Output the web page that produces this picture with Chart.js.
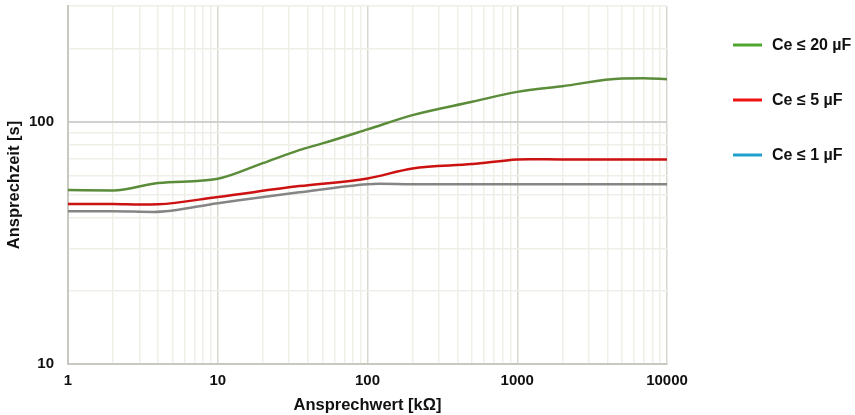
<!DOCTYPE html>
<html><head><meta charset="utf-8">
<script src="https://cdn.jsdelivr.net/npm/chart.js@4/dist/chart.umd.min.js"></script>
<style>html,body{margin:0;padding:0;background:#fff}#wrap{width:855px;height:415px}</style>
</head><body><div id="wrap"><canvas id="c" width="855" height="415"></canvas></div>
<script>
const seriesNames = ['Ce ≤ 20 µF', 'Ce ≤ 5 µF', 'Ce ≤ 1 µF'];
const legendColors = ['#4ea72e', '#ee1111', '#1fa0cc'];
const lineColors = ['#5b8c3a', '#cc1111', '#858585'];

const xGreen = [1, 2, 4, 10, 20, 35, 50, 100, 200, 500, 1000, 2000, 5000, 7000, 10000];
const yGreen = [52.2, 52, 55.8, 58.1, 67.4, 76.3, 81.3, 92.9, 106.4, 120.7, 132.7, 140, 150.7, 151, 149.7];
const xRed = [1, 2, 3, 4, 10, 35, 100, 200, 500, 1000, 1200, 2000, 10000];
const yRed = [45.7, 45.7, 45.5, 45.6, 48.9, 54.2, 58.3, 64.1, 66.8, 69.8, 70, 69.8, 69.8];
const xGray = [1, 2, 3.7, 10, 35, 100, 120, 200, 1000, 10000];
const yGray = [42.7, 42.7, 42.4, 46.1, 51.1, 55.2, 55.4, 55.2, 55.2, 55.2];

const xTickLabels = [1, 10, 100, 1000, 10000];
const yTickLabels = [10, 100];

function pts(xs, ys){ return xs.map((x,i)=>({x:x, y:ys[i]})); }
function logTicks(min, max){
  const out=[];
  for(let e=Math.floor(Math.log10(min)); Math.pow(10,e)<=max; e++){
    for(let s=1;s<=9;s++){ const v=s*Math.pow(10,e); if(v>=min-1e-9 && v<=max+1e-9) out.push({value:v}); }
  }
  return out;
}
const isDecade = v => Math.abs(Math.log10(v) - Math.round(Math.log10(v))) < 1e-9;

const FONT = 'Liberation Sans, Arial, sans-serif';

const legendPlugin = {
  id:'customLegend',
  afterDraw(chart){
    const ctx = chart.ctx;
    ctx.save();
    const ys=[45,100,155];
    seriesNames.forEach((n,i)=>{
      ctx.strokeStyle = legendColors[i];
      ctx.lineWidth = 3;
      ctx.beginPath(); ctx.moveTo(733, ys[i]); ctx.lineTo(762, ys[i]); ctx.stroke();
      ctx.fillStyle = '#111';
      ctx.font = 'bold 16px ' + FONT;
      ctx.textBaseline = 'middle';
      ctx.textAlign = 'left';
      ctx.fillText(n, 772, ys[i]+1);
    });
    ctx.restore();
  }
};

new Chart(document.getElementById('c'), {
  type:'line',
  data:{ datasets:[
    {label:seriesNames[0], data:pts(xGreen,yGreen), borderColor:lineColors[0], borderWidth:2.5, pointRadius:0, cubicInterpolationMode:'monotone', fill:false},
    {label:seriesNames[1], data:pts(xRed,yRed), borderColor:lineColors[1], borderWidth:2.5, pointRadius:0, cubicInterpolationMode:'monotone', fill:false},
    {label:seriesNames[2], data:pts(xGray,yGray), borderColor:lineColors[2], borderWidth:2.5, pointRadius:0, cubicInterpolationMode:'monotone', fill:false}
  ]},
  options:{
    responsive:false, animation:false,
    layout:{padding:{top:6, right:188, left:0, bottom:0}},
    plugins:{legend:{display:false}, tooltip:{enabled:false}},
    scales:{
      x:{type:'logarithmic', min:1, max:10000,
        afterBuildTicks(s){ s.ticks = logTicks(1,10000); },
        afterFit(s){ s.height = 51; s.paddingLeft = 0; s.paddingRight = 0; },
        ticks:{autoSkip:false, maxRotation:0, padding:8, color:'#111', font:{family:FONT, size:15, weight:'bold'},
          callback(v){ return xTickLabels.includes(v) ? String(v) : ''; }},
        grid:{color(c){ const v=c.tick.value; return (isDecade(v)) ? '#d9d8cf' : '#efefe8'; }, lineWidth(c){ return 1.5; }, drawTicks:false},
        border:{color:'#c9c8c0', width:2},
        title:{display:true, text:'Ansprechwert [kΩ]', color:'#111', font:{family:FONT, size:16.5, weight:'bold'}, padding:{top:0, bottom:0}}
      },
      y:{type:'logarithmic', min:10, max:300,
        afterBuildTicks(s){ s.ticks = logTicks(10,300); },
        afterFit(s){ s.width = 68; s.paddingTop = 0; s.paddingBottom = 0; },
        ticks:{autoSkip:false, padding:14, color:'#111', font:{family:FONT, size:15, weight:'bold'},
          callback(v){ return yTickLabels.includes(v) ? String(v) : ''; }},
        grid:{color(c){ const v=c.tick.value; return v===100 ? '#d0d0d0' : '#efefe8'; }, lineWidth(c){ return c.tick.value===100 ? 2 : 1.5; }, drawTicks:false},
        border:{color:'#c9c8c0', width:2},
        title:{display:true, text:'Ansprechzeit [s]', color:'#111', font:{family:FONT, size:16.5, weight:'bold'}, padding:{top:5, bottom:0}}
      }
    }
  },
  plugins:[legendPlugin]
});
</script></body></html>
